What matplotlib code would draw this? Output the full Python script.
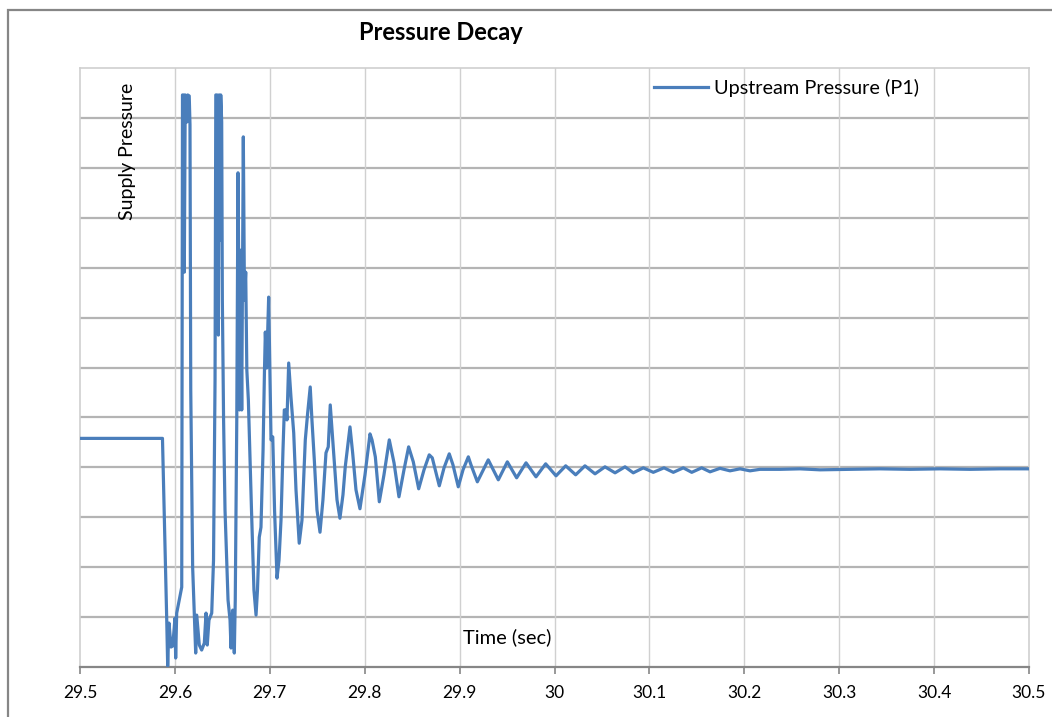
import matplotlib
matplotlib.use("Agg")
import matplotlib.pyplot as plt
from matplotlib.patches import Rectangle

# Upstream pressure trace (time in s, pressure in grid units)
time_s = [
    29.5000, 29.5869, 29.5914, 29.5924, 29.5938, 29.5959, 29.5977, 29.6001, 29.6008, 29.6019,
    29.6072, 29.6080, 29.6091, 29.6099, 29.6109, 29.6122, 29.6128, 29.6135, 29.6151, 29.6159,
    29.6167, 29.6187, 29.6219, 29.6230, 29.6257, 29.6282, 29.6310, 29.6328, 29.6341, 29.6359,
    29.6388, 29.6407, 29.6423, 29.6431, 29.6444, 29.6458, 29.6465, 29.6475, 29.6483, 29.6493,
    29.6500, 29.6513, 29.6528, 29.6560, 29.6581, 29.6591, 29.6609, 29.6626, 29.6636, 29.6652,
    29.6665, 29.6675, 29.6681, 29.6691, 29.6704, 29.6721, 29.6733, 29.6746, 29.6758, 29.6774,
    29.6807, 29.6833, 29.6855, 29.6870, 29.6889, 29.6907, 29.6929, 29.6944, 29.6953, 29.6967,
    29.6988, 29.7002, 29.7013, 29.7031, 29.7050, 29.7076, 29.7097, 29.7118, 29.7139, 29.7153,
    29.7171, 29.7181, 29.7199, 29.7223, 29.7252, 29.7276, 29.7310, 29.7339, 29.7374, 29.7399,
    29.7426, 29.7444, 29.7469, 29.7497, 29.7529, 29.7560, 29.7592, 29.7616, 29.7637, 29.7673,
    29.7708, 29.7739, 29.7771, 29.7795, 29.7845, 29.7873, 29.7908, 29.7950, 29.8003, 29.8056,
    29.8077, 29.8112, 29.8154, 29.8203, 29.8259, 29.8309, 29.8361, 29.8414, 29.8463, 29.8512,
    29.8569, 29.8625, 29.8680, 29.8712, 29.8786, 29.8836, 29.8891, 29.8930, 29.8986, 29.9036,
    29.9092, 29.9120, 29.9187, 29.9302, 29.9408, 29.9503, 29.9601, 29.9700, 29.9805, 29.9907,
    30.0016, 30.0118, 30.0223, 30.0321, 30.0427, 30.0532, 30.0638, 30.0743, 30.0830, 30.0936,
    30.1041, 30.1154, 30.1252, 30.1357, 30.1446, 30.1551, 30.1639, 30.1744, 30.1849, 30.1955,
    30.2060, 30.2165, 30.2376, 30.2587, 30.2798, 30.3114, 30.3430, 30.3746, 30.4062, 30.4378,
    30.4694, 30.5000,
]
pressure = [
    4.58, 4.58, 0.94, 0.02, 0.88, 0.40, 0.42, 0.98, 0.18, 1.08,
    1.60, 11.46, 11.46, 7.91, 11.46, 11.40, 10.92, 11.46, 11.44, 10.86,
    5.55, 2.00, 0.28, 1.04, 0.44, 0.34, 0.48, 1.08, 0.44, 0.94,
    1.08, 2.14, 5.75, 11.46, 11.46, 6.65, 11.46, 8.55, 11.46, 10.92,
    7.35, 4.95, 3.15, 1.34, 0.94, 0.38, 1.14, 0.28, 1.34, 4.95,
    9.90, 7.35, 5.15, 8.35, 5.15, 10.62, 7.35, 7.91, 5.95, 5.35,
    3.15, 1.54, 1.04, 1.54, 2.60, 2.80, 4.35, 5.95, 6.71, 5.99,
    7.41, 5.75, 4.55, 4.61, 3.15, 1.78, 2.14, 2.94, 4.35, 5.15,
    5.15, 4.95, 6.09, 5.41, 4.69, 3.55, 2.48, 2.94, 4.55, 5.09,
    5.61, 4.95, 4.15, 3.15, 2.70, 3.35, 4.29, 4.41, 5.25, 4.29,
    3.35, 2.98, 3.45, 4.01, 4.81, 4.29, 3.55, 3.17, 3.85, 4.67,
    4.55, 4.21, 3.31, 3.85, 4.55, 4.09, 3.41, 3.95, 4.41, 4.11,
    3.57, 3.95, 4.25, 4.19, 3.63, 3.99, 4.27, 4.05, 3.61, 3.95,
    4.21, 4.05, 3.71, 4.15, 3.75, 4.11, 3.79, 4.09, 3.81, 4.07,
    3.83, 4.03, 3.85, 4.03, 3.87, 4.01, 3.89, 4.01, 3.89, 3.99,
    3.90, 3.99, 3.90, 3.99, 3.90, 3.99, 3.91, 3.98, 3.93, 3.97,
    3.93, 3.96, 3.96, 3.97, 3.95, 3.96, 3.97, 3.96, 3.97, 3.96,
    3.97, 3.97,
]

x_ticks = [29.5, 29.6, 29.7, 29.8, 29.9, 30.0, 30.1, 30.2, 30.3, 30.4, 30.5]
x_tick_labels = ["29.5", "29.6", "29.7", "29.8", "29.9", "30", "30.1", "30.2", "30.3", "30.4", "30.5"]
y_grid = list(range(0, 13))

FONT = ["Lato", "DejaVu Sans"]
plt.rcParams["font.family"] = FONT
LINE_BLUE = "#4a7ebb"

fig = plt.figure(figsize=(10.52, 7.17), dpi=100)
ax = fig.add_axes([80 / 1052, 1 - 667 / 717, 949 / 1052, 599 / 717])

ax.plot(time_s, pressure, color=LINE_BLUE, lw=2.3, solid_joinstyle="round",
        label="Upstream Pressure (P1)", zorder=3)

ax.set_xlim(29.5, 30.5)
ax.set_ylim(0, 12)
ax.set_xticks(x_ticks)
ax.set_xticklabels(x_tick_labels, fontsize=12.5)
ax.set_yticks(y_grid)
ax.set_yticklabels([])
ax.tick_params(axis="y", length=0)
ax.tick_params(axis="x", length=5, width=1.2, color="#868686", pad=8)

# grid: heavier horizontal lines, light vertical lines
for v in y_grid[1:-1]:
    ax.axhline(v, color="#b4b4b4", lw=1.6, zorder=1)
for t in x_ticks[1:-1]:
    ax.axvline(t, color="#d0d0d0", lw=1.0, zorder=1)

for side in ("top", "left", "right"):
    ax.spines[side].set_color("#cfcfcf")
    ax.spines[side].set_linewidth(1.2)
ax.spines["bottom"].set_color("#868686")
ax.spines["bottom"].set_linewidth(1.6)

ax.text(47 / 949, 0.975, "Supply Pressure", transform=ax.transAxes, rotation=90,
        ha="center", va="top", fontsize=14)
ax.text(427 / 949, 30 / 599, "Time (sec)", transform=ax.transAxes,
        ha="center", va="center", fontsize=14.5)

ax.legend(loc="center left", bbox_to_anchor=(654 / 1052, 1 - 88 / 717),
          bbox_transform=fig.transFigure, frameon=False, fontsize=14.3,
          handlelength=2.7, handletextpad=0.3, borderaxespad=0, borderpad=0)

fig.text(441 / 1052, 1 - 32 / 717, "Pressure Decay", ha="center", va="center",
         fontsize=17, fontweight="bold")

# outer chart frame
fig.patches.append(Rectangle((8 / 1052, -0.1), 1.2, 1 - 10 / 717 + 0.1,
                             transform=fig.transFigure, fill=False,
                             edgecolor="#868686", lw=1.6))

fig.savefig("out.png", dpi=100, facecolor="white")
